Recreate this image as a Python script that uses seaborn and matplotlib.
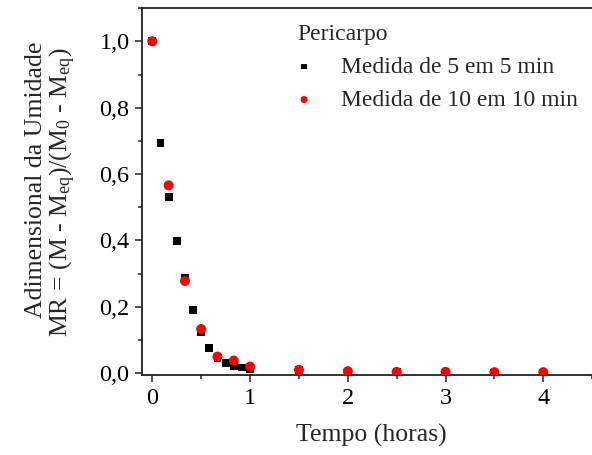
import matplotlib
matplotlib.use("Agg")
import matplotlib.pyplot as plt
import seaborn as sns
import pandas as pd
from matplotlib.ticker import MultipleLocator, FixedLocator

sns.set_theme(style="ticks")
plt.rcParams['font.family'] = ['Liberation Serif', 'DejaVu Serif']
plt.rcParams['mathtext.fontset'] = 'custom'
plt.rcParams['mathtext.rm'] = 'Liberation Serif'
plt.rcParams['mathtext.default'] = 'regular'

# Data
t_5min = [0, 5/60, 10/60, 15/60, 20/60, 25/60, 30/60, 35/60, 40/60, 45/60, 50/60, 55/60, 1.0,
          1.5, 2.0, 2.5, 3.0, 3.5, 4.0]
mr_5min = [1.0, 0.694, 0.530, 0.399, 0.288, 0.191, 0.125, 0.076, 0.047, 0.030, 0.020, 0.017, 0.013,
           0.009, 0.005, 0.003, 0.003, 0.002, 0.002]
t_10min = [0, 10/60, 20/60, 30/60, 40/60, 50/60, 1.0, 1.5, 2.0, 2.5, 3.0, 3.5, 4.0]
mr_10min = [1.0, 0.566, 0.278, 0.133, 0.050, 0.038, 0.020, 0.010, 0.006, 0.004, 0.004, 0.003, 0.003]

x_ticks = [0, 1, 2, 3, 4]
y_ticks = [0.0, 0.2, 0.4, 0.6, 0.8, 1.0]
y_tick_labels = ["0,0", "0,2", "0,4", "0,6", "0,8", "1,0"]
label_5 = "Medida de 5 em 5 min"
label_10 = "Medida de 10 em 10 min"
legend_title = "Pericarpo"
x_label = "Tempo (horas)"
y_label_1 = "Adimensional da Umidade"
y_label_2 = r"MR = (M - M$_{eq}$)/(M$_0$ - M$_{eq}$)"

df5 = pd.DataFrame({"t": t_5min, "mr": mr_5min})
df10 = pd.DataFrame({"t": t_10min, "mr": mr_10min})

W, H = 592, 455
fig = plt.figure(figsize=(W / 100, H / 100), dpi=100)
ax = fig.add_axes([0.240, 0.175, 0.765, 0.807])

sns.scatterplot(data=df5, x="t", y="mr", marker="s", color="black", s=32,
                edgecolor="none", label=label_5, ax=ax, zorder=3)
sns.scatterplot(data=df10, x="t", y="mr", marker="o", color="red", s=52,
                edgecolor="none", label=label_10, ax=ax, zorder=4)

ax.set_xlim(-0.105, 4.529)
ax.set_ylim(-0.0066, 1.1)
ax.xaxis.set_major_locator(FixedLocator(x_ticks))
ax.set_xticklabels([str(v) for v in x_ticks])
ax.xaxis.set_minor_locator(MultipleLocator(0.5))
ax.yaxis.set_major_locator(FixedLocator(y_ticks))
ax.set_yticklabels(y_tick_labels)
ax.yaxis.set_minor_locator(MultipleLocator(0.1))

ax.tick_params(axis='both', which='major', direction='out', length=5, width=1.1,
               labelsize=17.5, pad=4, color='#222222', labelcolor='black')
ax.tick_params(axis='both', which='minor', direction='out', length=3, width=1.1, color='#222222')
for side in ['left', 'bottom', 'top']:
    ax.spines[side].set_linewidth(1.3)
    ax.spines[side].set_color('#222222')
ax.spines['right'].set_visible(False)

# axes pixel geometry
ax_left_px, ax_right_px = 0.240 * W, (0.240 + 0.765) * W
ax_bot_px = H - 0.175 * H
ax_h_px = 0.807 * H

def ax_coords(px, py):
    return ((px - ax_left_px) / (ax_right_px - ax_left_px), (ax_bot_px - py) / ax_h_px)

ax.set_xlabel(x_label, fontsize=18.5)
ax.xaxis.label.set_va('baseline')
ax.xaxis.set_label_coords(*ax_coords(371.5, 441.7))

ax.set_ylabel(y_label_2, fontsize=18.5)
ax.yaxis.label.set_va('baseline')
ax.yaxis.set_label_coords(*ax_coords(68, 192))
fig.text(42 / W, 1 - 180 / H, y_label_1, fontsize=18.5, rotation=90,
         rotation_mode='anchor', ha='center', va='baseline')

leg = ax.legend(title=legend_title, loc="upper left",
                bbox_to_anchor=(297 / W, 1 - 24 / H), bbox_transform=fig.transFigure,
                frameon=False, fontsize=17, title_fontsize=17, markerscale=0.7,
                handletextpad=1.25, labelspacing=0.48, borderaxespad=0, borderpad=0,
                alignment='left', handlelength=0.6)

fig.savefig("out.png", dpi=100)
